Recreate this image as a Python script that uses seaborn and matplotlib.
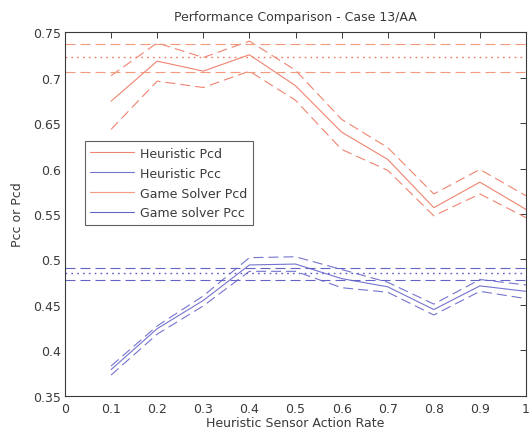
import numpy as np
import pandas as pd
import matplotlib
matplotlib.use("Agg")
import matplotlib.pyplot as plt
from matplotlib.lines import Line2D
import seaborn as sns

# Heuristic sensor action rates
rates = [0.1, 0.2, 0.3, 0.4, 0.5, 0.6, 0.7, 0.8, 0.9, 1.0]

# Heuristic Pcd: mean with upper / lower bounds
heur_pcd = [0.674, 0.718, 0.707, 0.725, 0.691, 0.640, 0.610, 0.557, 0.585, 0.555]
heur_pcd_hi = [0.702, 0.738, 0.722, 0.740, 0.708, 0.654, 0.623, 0.572, 0.599, 0.570]
heur_pcd_lo = [0.643, 0.696, 0.689, 0.707, 0.675, 0.621, 0.598, 0.548, 0.572, 0.546]

# Heuristic Pcc: mean with upper / lower bounds
heur_pcc = [0.379, 0.424, 0.455, 0.494, 0.495, 0.479, 0.470, 0.445, 0.471, 0.465]
heur_pcc_hi = [0.383, 0.427, 0.460, 0.502, 0.503, 0.489, 0.475, 0.451, 0.478, 0.472]
heur_pcc_lo = [0.373, 0.418, 0.449, 0.487, 0.487, 0.469, 0.464, 0.439, 0.465, 0.457]

# Game solver results (independent of the heuristic rate): mean, upper, lower
game_pcd = [0.722, 0.737, 0.706]
game_pcc = [0.485, 0.491, 0.478]

RED = "#ef8470"
ORANGE = "#f39a7c"
BLUE = "#7474cf"
BLUE2 = "#6464c6"
DASH = (0, (9, 4.5))
DOT = (0, (1.2, 3.0))

sns.set_theme(style="white")
plt.rcParams["font.family"] = ["DejaVu Sans"]

FS = 9
TXT = "#3a3a3a"

fig = plt.figure(figsize=(5.31, 4.39), dpi=100)
ax = fig.add_axes([0.1224, 0.0957, 0.8682, 0.8291])

df = pd.DataFrame({
    "rate": rates,
    "pcd": heur_pcd, "pcd_hi": heur_pcd_hi, "pcd_lo": heur_pcd_lo,
    "pcc": heur_pcc, "pcc_hi": heur_pcc_hi, "pcc_lo": heur_pcc_lo,
})

lw = 0.8
sns.lineplot(data=df, x="rate", y="pcd", ax=ax, color=RED, lw=lw)
sns.lineplot(data=df, x="rate", y="pcd_hi", ax=ax, color=RED, lw=lw, linestyle=DASH)
sns.lineplot(data=df, x="rate", y="pcd_lo", ax=ax, color=RED, lw=lw, linestyle=DASH)
sns.lineplot(data=df, x="rate", y="pcc", ax=ax, color=BLUE, lw=lw)
sns.lineplot(data=df, x="rate", y="pcc_hi", ax=ax, color=BLUE, lw=lw, linestyle=DASH)
sns.lineplot(data=df, x="rate", y="pcc_lo", ax=ax, color=BLUE, lw=lw, linestyle=DASH)

ax.axhline(game_pcd[0], color="#ee7c62", lw=1.0, linestyle=DOT)
ax.axhline(game_pcd[1], color=ORANGE, lw=lw, linestyle=DASH)
ax.axhline(game_pcd[2], color=ORANGE, lw=lw, linestyle=DASH)
ax.axhline(game_pcc[0], color="#5c5cc2", lw=1.0, linestyle=DOT)
ax.axhline(game_pcc[1], color=BLUE2, lw=lw, linestyle=DASH)
ax.axhline(game_pcc[2], color=BLUE2, lw=lw, linestyle=DASH)

ax.set_xlim(0, 1)
ax.set_ylim(0.35, 0.75)
ax.set_xticks(np.arange(0, 1.01, 0.1))
ax.set_xticklabels(["0", "0.1", "0.2", "0.3", "0.4", "0.5", "0.6", "0.7", "0.8", "0.9", "1"])
ax.set_yticks(np.arange(0.35, 0.751, 0.05))
ax.set_yticklabels(["0.35", "0.4", "0.45", "0.5", "0.55", "0.6", "0.65", "0.7", "0.75"])
ax.tick_params(direction="in", length=4, width=0.7, top=True, right=True,
               labelsize=FS, colors=TXT, pad=3)
ax.tick_params(axis="x", pad=4)
for s in ax.spines.values():
    s.set_color("#3a3a3a")
    s.set_linewidth(0.8)

ax.set_xlabel("Heuristic Sensor Action Rate", fontsize=FS, color=TXT, labelpad=1)
ax.set_ylabel("Pcc or Pcd", fontsize=FS, color=TXT, labelpad=6)
ax.set_title("Performance Comparison - Case 13/AA", fontsize=FS, color=TXT, pad=9)

handles = [
    Line2D([], [], color=RED, lw=lw),
    Line2D([], [], color=BLUE, lw=lw),
    Line2D([], [], color=ORANGE, lw=lw),
    Line2D([], [], color=BLUE2, lw=lw),
]
labels = ["Heuristic Pcd", "Heuristic Pcc", "Game Solver Pcd", "Game solver Pcc"]
leg = ax.legend(handles, labels, loc="upper left", bbox_to_anchor=(0.043, 0.70),
                fontsize=FS, frameon=True, fancybox=False, handlelength=3.5,
                borderpad=0.45, labelspacing=0.55, handletextpad=0.5,
                borderaxespad=0)
leg.get_frame().set_edgecolor("#3a3a3a")
leg.get_frame().set_linewidth(0.8)
for t in leg.get_texts():
    t.set_color(TXT)

fig.savefig("out.png", dpi=100)
